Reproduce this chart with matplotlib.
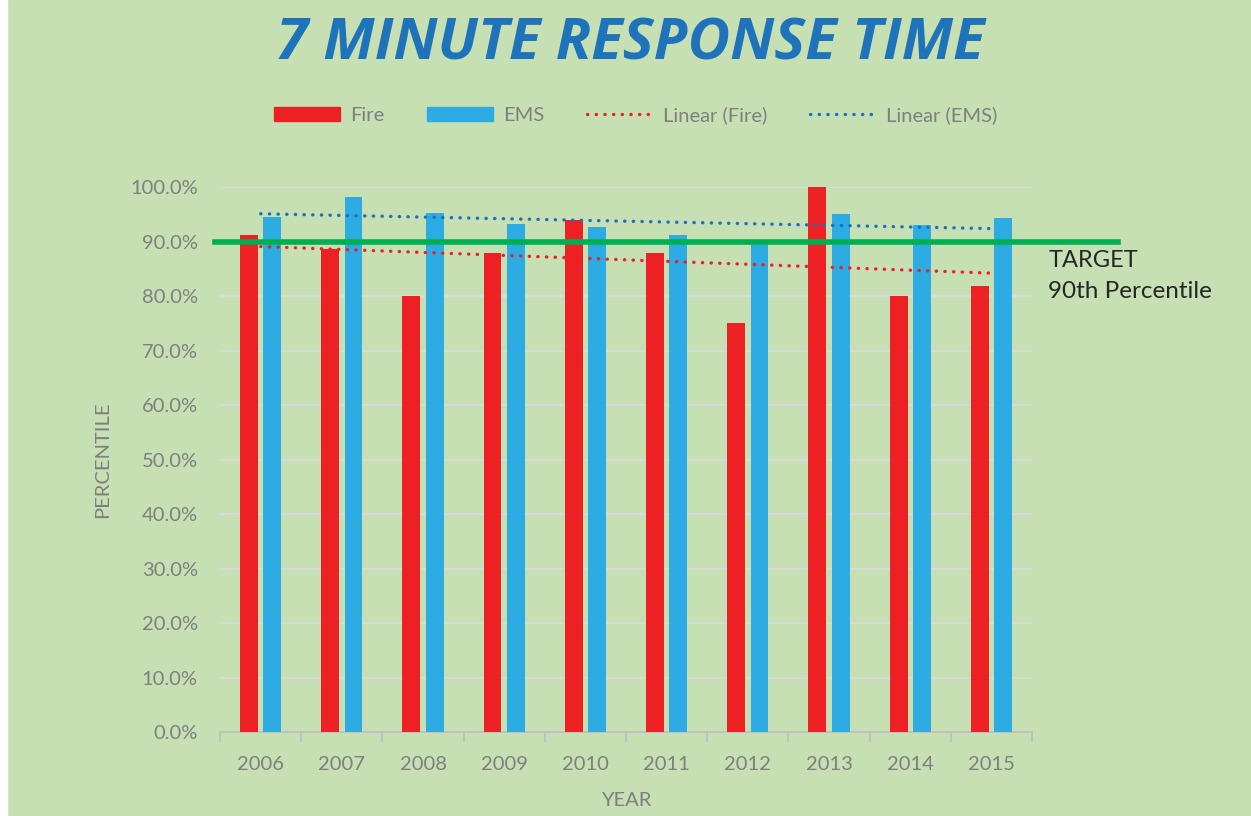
import numpy as np
import matplotlib
matplotlib.use("Agg")
import matplotlib.pyplot as plt
from matplotlib.lines import Line2D
from matplotlib.patches import Patch, Rectangle

years = ["2006", "2007", "2008", "2009", "2010", "2011", "2012", "2013", "2014", "2015"]
fire = [91.2, 88.6, 80.0, 87.9, 94.0, 87.9, 75.0, 100.0, 80.0, 81.8]
ems = [94.5, 98.1, 95.2, 93.3, 92.7, 91.2, 90.0, 95.0, 93.0, 94.3]
target = 90.0

bg = "#c6e0b4"
fire_col = "#ed2024"
ems_col = "#2cace3"
ems_trend_col = "#1f6fc0"
gray = "#7f7f7f"

plt.rcParams['font.family'] = ['Lato', 'DejaVu Sans']

fig = plt.figure(figsize=(12.51, 8.16), dpi=100, facecolor=bg)
ax = fig.add_axes([0.1759, 0.1029, 0.6491, 0.6679], facecolor=bg)

x = np.arange(len(years))
w = 0.22
ax.bar(x - 0.144, fire, w, color=fire_col, zorder=3)
ax.bar(x + 0.144, ems, w, color=ems_col, zorder=3)

# linear trendlines
pf = np.polyfit(x, fire, 1)
pe = np.polyfit(x, ems, 1)
ax.plot(x, np.polyval(pf, x), color=fire_col, lw=2.4, linestyle=(0, (0.1, 2.5)),
        dash_capstyle='round', zorder=4)
ax.plot(x, np.polyval(pe, x), color=ems_trend_col, lw=2.4, linestyle=(0, (0.1, 2.5)),
        dash_capstyle='round', zorder=4)

# target line
ax.axhline(target, xmin=-0.006, xmax=1.106, color="#00b050", lw=4, clip_on=False, zorder=5)
ax.text(1.02, 0.865, "TARGET", transform=ax.transAxes, fontsize=17, color="#262626", va='center')
ax.text(1.02, 0.808, "90th Percentile", transform=ax.transAxes, fontsize=17.5, color="#262626", va='center')

ax.set_xlim(-0.5, len(years) - 0.5)
ax.set_ylim(0, 100)
ax.set_yticks(np.arange(0, 101, 10))
ax.set_yticklabels([f"{v:.1f}%" for v in np.arange(0, 101, 10)])
ax.yaxis.grid(True, color="#d9d9d9", lw=1.5, zorder=0)
ax.set_axisbelow(True)

ax.set_xticks(x)
ax.set_xticklabels(years)
ax.set_xticks(np.arange(-0.5, len(years)), minor=True)
ax.tick_params(axis='x', which='major', length=0, pad=17, labelsize=14.5, labelcolor=gray)
ax.tick_params(axis='x', which='minor', length=7, width=1.3, color="#bfbfbf")
ax.tick_params(axis='y', length=0, pad=16, labelsize=14.5, labelcolor=gray)

for s in ['top', 'right', 'left']:
    ax.spines[s].set_visible(False)
ax.spines['bottom'].set_color("#bfbfbf")
ax.spines['bottom'].set_linewidth(1.3)

ax.set_xlabel("YEAR", fontsize=14.5, color=gray, labelpad=14)
ax.set_ylabel("PERCENTILE", fontsize=14.5, color=gray, labelpad=14)

fig.text(0.504, 0.945, "7 MINUTE RESPONSE TIME", fontsize=42, fontweight='bold',
         fontstyle='italic', color="#1f73bb", ha='center', va='center', family=['Open Sans', 'DejaVu Sans'])

handles = [Patch(color=fire_col), Patch(color=ems_col),
           Line2D([], [], color=fire_col, lw=2.4, linestyle=(0, (0.1, 2.5)), dash_capstyle='round'),
           Line2D([], [], color=ems_trend_col, lw=2.4, linestyle=(0, (0.1, 2.5)), dash_capstyle='round')]
fig.legend(handles, ["Fire", "EMS", "Linear (Fire)", "Linear (EMS)"], loc='center',
           bbox_to_anchor=(0.508, 0.859), ncol=4, frameon=False, fontsize=14.5,
           labelcolor=gray, handlelength=3.3, handleheight=0.7, columnspacing=2.1, handletextpad=0.5)

# white strip on left edge
fig.patches.append(Rectangle((0, 0), 7 / 1251, 1, transform=fig.transFigure, color='white', zorder=0))

fig.savefig("out.png", dpi=100, facecolor=bg)
